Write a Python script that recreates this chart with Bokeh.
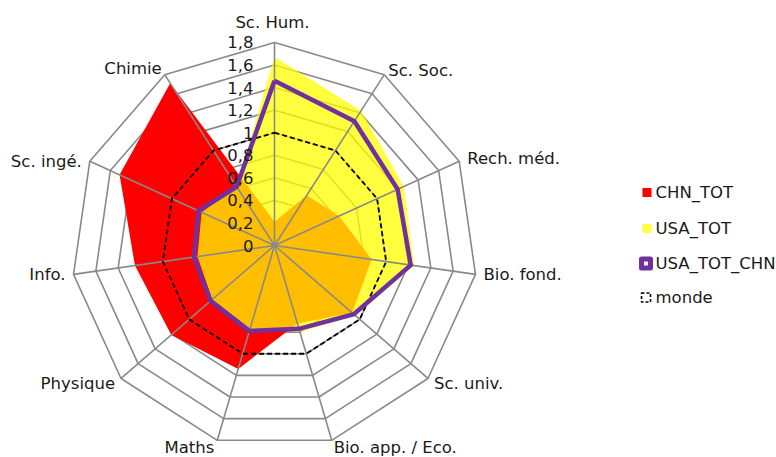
import math
from bokeh.plotting import figure
from bokeh.models import Range1d
from bokeh.core.properties import value
from bokeh.embed import file_html
from bokeh.resources import INLINE

categories = ["Sc. Hum.", "Sc. Soc.", "Rech. méd.", "Bio. fond.", "Sc. univ.",
              "Bio. app. / Eco.", "Maths", "Physique", "Info.", "Sc. ingé.", "Chimie"]
chn_tot = [0.21, 0.53, 0.63, 0.87, 0.91, 0.72, 1.14, 1.21, 1.25, 1.51, 1.71]
usa_tot = [1.67, 1.42, 1.26, 1.25, 0.95, 0.80, 0.77, 0.73, 0.69, 0.71, 0.62]
usa_tot_chn = [1.46, 1.31, 1.20, 1.22, 0.93, 0.77, 0.79, 0.75, 0.72, 0.74, 0.62]
monde = [1.0, 1.0, 1.0, 1.0, 1.0, 1.0, 1.0, 1.0, 1.0, 1.0, 1.0]
ticks = [0, 0.2, 0.4, 0.6, 0.8, 1.0, 1.2, 1.4, 1.6, 1.8]
tick_labels = ["0", "0,2", "0,4", "0,6", "0,8", "1", "1,2", "1,4", "1,6", "1,8"]
series_names = ["CHN_TOT", "USA_TOT", "USA_TOT_CHN", "monde"]

FONT = "DejaVu Sans"
FS = "16.5px"
K = 112.8          # pixels per unit
CX, CY = 274, 245  # canvas position of centre
W, H = 776, 457

n = len(categories)
angles = [2 * math.pi * i / n for i in range(n)]


def polar(vals):
    xs = [v * math.sin(a) for v, a in zip(vals, angles)]
    ys = [v * math.cos(a) for v, a in zip(vals, angles)]
    return xs, ys


def closed(xs, ys):
    return xs + xs[:1], ys + ys[:1]


p = figure(width=W, height=H, output_backend="svg", toolbar_location=None,
           x_range=Range1d((0 - CX) / K, (W - CX) / K),
           y_range=Range1d((CY - H) / K, CY / K),
           min_border=0, outline_line_color=None)
p.axis.visible = False
p.grid.visible = False
p.background_fill_color = "white"
p.border_fill_color = "white"

GRID = "#898989"
# rings
for t in ticks[1:]:
    xs, ys = closed(*polar([t] * n))
    p.line(xs, ys, line_color=GRID, line_width=1.6)

# filled series
cx, cy = closed(*polar(chn_tot))
p.patch(cx, cy, fill_color="#FF0000", line_color=None)
ux, uy = closed(*polar(usa_tot))
p.patch(ux, uy, fill_color="#FFFF00", fill_alpha=0.75, line_color=None)

# spokes
top = ticks[-1]
for a in angles:
    p.line([0, top * math.sin(a)], [0, top * math.cos(a)], line_color=GRID, line_width=1.6)

# monde dashed
mx, my = closed(*polar(monde))
p.line(mx, my, line_color="black", line_width=1.8, line_dash="5 3")

# USA_TOT_CHN
px_, py_ = closed(*polar(usa_tot_chn))
p.line(px_, py_, line_color="#7030A0", line_width=4.5, line_join="miter")

# tick labels
p.text(x=[0] * len(ticks), y=ticks, text=tick_labels, x_offset=-21,
       text_align="right", text_baseline="middle", text_font=value(FONT),
       text_font_size=FS, text_color="#1a1a1a")

# category labels
offs = [(-2, -20, "center"), (4, -4, "left"), (8, -3, "left"), (8, 0, "left"),
        (6, 5, "left"), (2, 7, "left"), (-3, 7, "right"), (-6, 5, "right"),
        (-8, 0, "right"), (-8, 0, "right"), (-3, -6, "right")]
lx, ly = polar([top] * n)
for i in range(n):
    dx, dy, al = offs[i]
    p.text(x=[lx[i]], y=[ly[i]], text=[categories[i]], x_offset=dx, y_offset=dy,
           text_align=al, text_baseline="middle", text_font=value(FONT),
           text_font_size=FS, text_color="#1a1a1a")

# legend (manual)
def dxp(px):
    return (px - CX) / K


def dyp(py):
    return (CY - py) / K

leg_y = [192, 228, 263, 297]
sq_x = dxp(646.5)
p.rect(x=[sq_x], y=[dyp(leg_y[0])], width=9, height=9, width_units="screen",
       height_units="screen", fill_color="#FF0000", line_color=None)
p.rect(x=[sq_x], y=[dyp(leg_y[1])], width=9, height=9, width_units="screen",
       height_units="screen", fill_color="#FFFF00", fill_alpha=0.75, line_color=None)
p.rect(x=[sq_x - 1 / K], y=[dyp(leg_y[2])], width=9, height=9, width_units="screen",
       height_units="screen", fill_color="white", line_color="#7030A0", line_width=5,
       line_join="round")
p.rect(x=[sq_x - 1 / K], y=[dyp(leg_y[3])], width=9, height=9, width_units="screen",
       height_units="screen", fill_color=None, line_color="black", line_width=1.6,
       line_dash="3 2")
p.text(x=[dxp(655)] * 4, y=[dyp(v) for v in leg_y], text=series_names,
       text_align="left", text_baseline="middle", text_font=value(FONT),
       text_font_size=FS, text_color="#1a1a1a")

open("out.html", "w").write(file_html(p, INLINE))
